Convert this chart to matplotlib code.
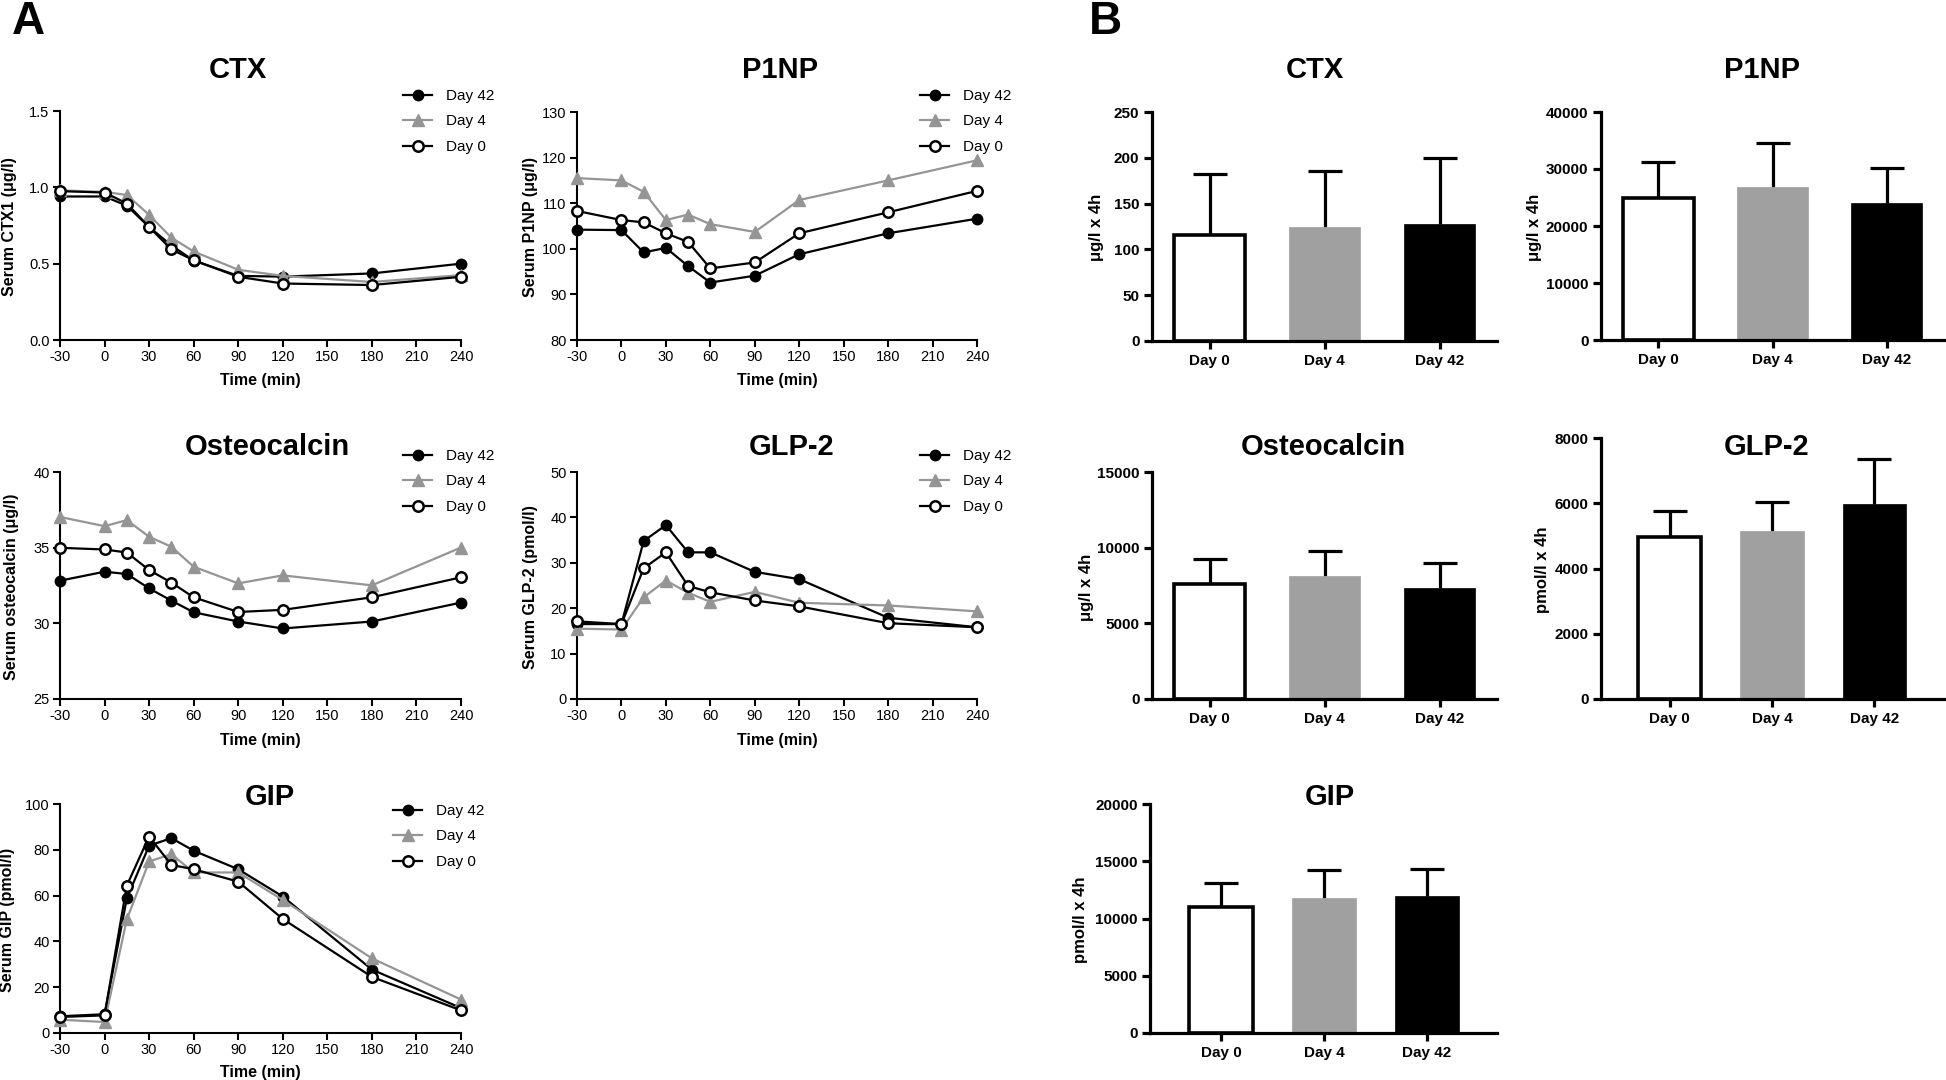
import matplotlib
matplotlib.use("Agg")
import matplotlib.pyplot as plt
import numpy as np

plt.rcParams['font.family'] = ['Liberation Sans', 'DejaVu Sans']
plt.rcParams['axes.unicode_minus'] = False

# ---------------- data ----------------
time_min = [-30, 0, 15, 30, 45, 60, 90, 120, 180, 240]
series_labels = ["Day 42", "Day 4", "Day 0"]

ctx_d42 = [0.94, 0.94, 0.88, 0.74, 0.62, 0.52, 0.42, 0.415, 0.436, 0.50]
ctx_d4 = [0.98, 0.97, 0.95, 0.82, 0.67, 0.58, 0.46, 0.42, 0.38, 0.425]
ctx_d0 = [0.975, 0.966, 0.894, 0.74, 0.593, 0.523, 0.414, 0.37, 0.36, 0.414]

p1np_d42 = [104.2, 104.1, 99.2, 100.2, 96.2, 92.6, 94.1, 98.8, 103.4, 106.6]
p1np_d4 = [115.5, 115.0, 112.5, 106.3, 107.5, 105.4, 103.7, 110.7, 115.0, 119.4]
p1np_d0 = [108.3, 106.3, 105.8, 103.4, 101.5, 95.7, 97.0, 103.4, 108.0, 112.7]

oc_d42 = [32.82, 33.41, 33.26, 32.31, 31.50, 30.73, 30.12, 29.66, 30.12, 31.37]
oc_d4 = [37.03, 36.42, 36.82, 35.72, 35.06, 33.74, 32.64, 33.17, 32.51, 35.01]
oc_d0 = [34.99, 34.88, 34.68, 33.52, 32.69, 31.72, 30.75, 30.89, 31.72, 33.04]

glp2_d42 = [16.5, 16.5, 34.8, 38.3, 32.3, 32.3, 28.0, 26.4, 17.9, 15.8]
glp2_d4 = [15.5, 15.3, 22.4, 26.1, 23.4, 21.4, 23.6, 21.2, 20.6, 19.3]
glp2_d0 = [17.1, 16.5, 28.8, 32.3, 24.9, 23.5, 21.7, 20.4, 16.7, 15.8]

gip_d42 = [7.3, 8.2, 58.8, 81.8, 85.1, 79.6, 71.5, 59.6, 27.7, 10.9]
gip_d4 = [5.8, 4.8, 49.6, 74.9, 78.1, 70.1, 70.1, 58.1, 32.6, 14.6]
gip_d0 = [7.0, 7.7, 64.4, 85.8, 73.4, 71.5, 66.1, 49.8, 24.5, 9.9]

bar_categories = ["Day 0", "Day 4", "Day 42"]
ctx_auc_mean = [116, 125, 128]
ctx_auc_sd = [66, 61, 72]
p1np_auc_mean = [24900, 26800, 24000]
p1np_auc_sd = [6300, 7700, 6200]
oc_auc_mean = [7600, 8130, 7330]
oc_auc_sd = [1650, 1650, 1660]
glp2_auc_mean = [4970, 5150, 5980]
glp2_auc_sd = [790, 890, 1380]
gip_auc_mean = [11000, 11800, 12000]
gip_auc_sd = [2100, 2440, 2300]

# ---------------- layout helpers ----------------
W, H = 1946, 1080
fig = plt.figure(figsize=(W / 100, H / 100), dpi=100)
GRAY = '#959595'
BARGRAY = '#A0A0A0'


def fx(x):
    return x / W


def fy(y):
    return 1 - y / H


def add_ax(x0, x1, y0, y1):
    return fig.add_axes([fx(x0), fy(y1), (x1 - x0) / W, (y1 - y0) / H])


def ftext(x, y, s, **kw):
    fig.text(fx(x), fy(y), s, **kw)


def line_panel(box, d42, d4, d0, ylim, yticks, yfmt, title, title_xy, ylabel,
               ylabel_xy, xlabel_y, legend_xy):
    ax = add_ax(*box)
    l1, = ax.plot(time_min, d42, '-o', color='black', lw=1.6, ms=7.5,
                  mfc='black', mec='black', zorder=3, clip_on=False)
    l2, = ax.plot(time_min, d4, '-^', color=GRAY, lw=1.6, ms=8,
                  mfc=GRAY, mec=GRAY, zorder=3, clip_on=False)
    l3, = ax.plot(time_min, d0, '-o', color='black', lw=1.6, ms=7.5,
                  mfc='white', mec='black', mew=1.8, zorder=4, clip_on=False)
    ax.set_xlim(-30, 240)
    ax.set_ylim(*ylim)
    ax.set_xticks(range(-30, 241, 30))
    ax.set_yticks(yticks)
    ax.set_yticklabels([yfmt.format(v) for v in yticks])
    for s in ['top', 'right']:
        ax.spines[s].set_visible(False)
    for s in ['left', 'bottom']:
        ax.spines[s].set_linewidth(1.5)
    ax.tick_params(direction='out', length=5, width=1.5, labelsize=10.5,
                   pad=2.5)
    ftext(title_xy[0], title_xy[1], title, ha='center', va='center',
          fontsize=21, fontweight='bold')
    ftext(ylabel_xy[0], ylabel_xy[1], ylabel, ha='center', va='center',
          rotation=90, fontsize=11.5, fontweight='bold')
    ftext((box[0] + box[1]) / 2, xlabel_y, 'Time (min)', ha='center',
          va='center', fontsize=11.5, fontweight='bold')
    fig.legend([l1, l2, l3], series_labels, loc='upper left',
               bbox_to_anchor=(fx(legend_xy[0]), fy(legend_xy[1])),
               frameon=False, fontsize=11, handlelength=1.9,
               handletextpad=0.9, labelspacing=0.75, borderpad=0,
               borderaxespad=0, numpoints=1)
    return ax


def bar_panel(box, means, sds, xlim, ylim, yticks, title, title_xy, ylabel,
              ylabel_xy):
    ax = add_ax(*box)
    x = np.arange(len(bar_categories))
    colors = ['white', BARGRAY, 'black']
    edges = ['black', BARGRAY, 'black']
    tops = np.array(means) + np.array(sds)
    ax.vlines(x, means, tops, colors='black', lw=2.3, zorder=1)
    ax.plot(x, tops, ls='none', marker='_', ms=24, mew=2.3, color='black',
            zorder=1, clip_on=False)
    for i in range(len(x)):
        ax.bar(x[i], means[i], width=0.62, color=colors[i],
               edgecolor=edges[i], linewidth=2.6 if i == 0 else 0.5,
               zorder=2)
    ax.set_xlim(*xlim)
    ax.set_ylim(*ylim)
    ax.set_xticks(x)
    ax.set_xticklabels(bar_categories)
    ax.set_yticks(yticks)
    for s in ['top', 'right']:
        ax.spines[s].set_visible(False)
    for s in ['left', 'bottom']:
        ax.spines[s].set_linewidth(2.3)
    ax.tick_params(direction='out', length=6, width=2.3, labelsize=11,
                   pad=3)
    for lab in ax.get_xticklabels() + ax.get_yticklabels():
        lab.set_fontweight('bold')
    ftext(title_xy[0], title_xy[1], title, ha='center', va='center',
          fontsize=21, fontweight='bold')
    ftext(ylabel_xy[0], ylabel_xy[1], ylabel, ha='center', va='center',
          rotation=90, fontsize=12, fontweight='bold')
    return ax


# ---------------- panel A: time courses ----------------
line_panel((60, 461, 111, 340), ctx_d42, ctx_d4, ctx_d0, (0, 1.5),
           [0.0, 0.5, 1.0, 1.5], '{:.1f}', 'CTX', (238, 70),
           'Serum CTX1 (μg/l)', (10, 227), 380, (403, 89))
line_panel((577, 977, 112, 340), p1np_d42, p1np_d4, p1np_d0, (80, 130),
           list(range(80, 131, 10)), '{:d}', 'P1NP', (780, 70),
           'Serum P1NP (μg/l)', (531, 227), 380, (920, 89))
line_panel((60, 461, 472, 699), oc_d42, oc_d4, oc_d0, (25, 40),
           [25, 30, 35, 40], '{:d}', 'Osteocalcin', (267, 447),
           'Serum osteocalcin (μg/l)', (12, 587), 740, (403, 449))
line_panel((577, 977, 472, 699), glp2_d42, glp2_d4, glp2_d0, (0, 50),
           list(range(0, 51, 10)), '{:d}', 'GLP-2', (792, 447),
           'Serum GLP-2 (pmol/l)', (530, 587), 740, (920, 449))
line_panel((60, 461, 804, 1033), gip_d42, gip_d4, gip_d0, (0, 100),
           list(range(0, 101, 20)), '{:d}', 'GIP', (270, 797),
           'Serum GIP (pmol/l)', (8, 920), 1072, (393, 804))

# ---------------- panel B: AUC bars ----------------
bar_panel((1152, 1497, 112, 341), ctx_auc_mean, ctx_auc_sd, (-0.5, 2.5),
          (0, 250), list(range(0, 251, 50)), 'CTX', (1315, 70),
          'μg/l x 4h', (1097, 227))
bar_panel((1601, 1944, 112, 340), p1np_auc_mean, p1np_auc_sd, (-0.5, 2.5),
          (0, 40000), list(range(0, 40001, 10000)), 'P1NP', (1762, 70),
          'μg/l x 4h', (1534, 227))
bar_panel((1152, 1497, 472, 699), oc_auc_mean, oc_auc_sd, (-0.5, 2.5),
          (0, 15000), [0, 5000, 10000, 15000], 'Osteocalcin', (1323, 447),
          'μg/l x 4h', (1086, 587))
bar_panel((1601, 1944, 438, 699), glp2_auc_mean, glp2_auc_sd, (-0.67, 2.68),
          (0, 8000), list(range(0, 8001, 2000)), 'GLP-2', (1767, 447),
          'pmol/l x 4h', (1543, 570))
bar_panel((1150, 1497, 804, 1033), gip_auc_mean, gip_auc_sd, (-0.69, 2.68),
          (0, 20000), list(range(0, 20001, 5000)), 'GIP', (1330, 797),
          'pmol/l x 4h', (1081, 920))

# panel letters
ftext(28, 22, 'A', ha='center', va='center', fontsize=33, fontweight='bold')
ftext(1105, 22, 'B', ha='center', va='center', fontsize=33, fontweight='bold')

fig.savefig('out.png', dpi=100)
